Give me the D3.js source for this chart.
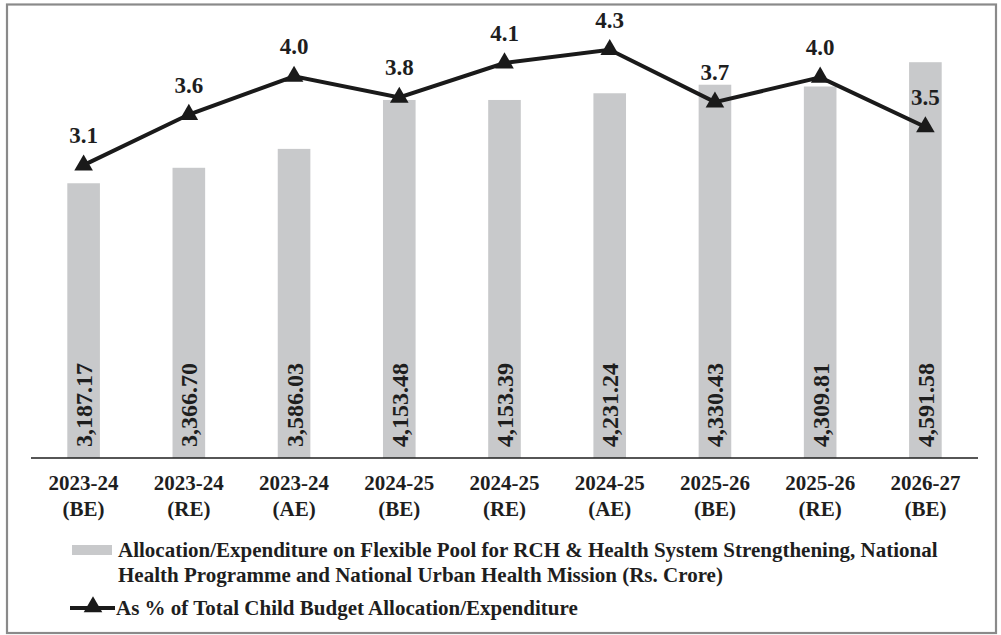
<!DOCTYPE html>
<html>
<head>
<meta charset="utf-8">
<script src="https://cdn.jsdelivr.net/npm/d3@7"></script>
<style>
  html, body { margin: 0; padding: 0; background: #fff; }
  svg { display: block; }
  text { font-family: "Liberation Serif", "Times New Roman", serif; font-weight: bold; fill: #1e1e1e; }
</style>
</head>
<body>
<svg id="chart" width="1001" height="635"></svg>
<script>
const years = ["2023-24", "2023-24", "2023-24", "2024-25", "2024-25", "2024-25", "2025-26", "2025-26", "2026-27"];
const stages = ["(BE)", "(RE)", "(AE)", "(BE)", "(RE)", "(AE)", "(BE)", "(RE)", "(BE)"];
const allocation = [3187.17, 3366.70, 3586.03, 4153.48, 4153.39, 4231.24, 4330.43, 4309.81, 4591.58];
const sharePct = [3.07, 3.60, 4.00, 3.78, 4.14, 4.28, 3.73, 3.99, 3.47];
const legendBar = ["Allocation/Expenditure on Flexible Pool for RCH & Health System Strengthening, National",
                   "Health Programme and National Urban Health Mission (Rs. Crore)"];
const legendLine = "As % of Total Child Budget Allocation/Expenditure";

const svg = d3.select("#chart");
const cats = years.map((y, i) => i);

// frame
svg.append("rect").attr("x", 7).attr("y", 4.5).attr("width", 989).attr("height", 628.5)
  .attr("fill", "none").attr("stroke", "#8a8a8a").attr("stroke-width", 2.2);

const x = d3.scaleBand().domain(cats).range([31, 978]).paddingInner(0.69).paddingOuter(0.345);
const y = d3.scaleLinear().domain([0, 5000]).range([458, 27]);
const y2 = d3.scaleLinear().domain([0, 4.5]).range([458, 28.7]);

// bars
svg.append("g").selectAll("rect").data(allocation).join("rect")
  .attr("x", (d, i) => x(i))
  .attr("y", d => y(d))
  .attr("width", x.bandwidth())
  .attr("height", d => y(0) - y(d))
  .attr("fill", "#c8c9cb");

// bar value labels (rotated)
svg.append("g").selectAll("text").data(allocation).join("text")
  .attr("transform", (d, i) => `translate(${x(i) + x.bandwidth() / 2 + 0.5},${y(0) - 11}) rotate(-90)`)
  .attr("text-anchor", "start")
  .attr("dominant-baseline", "central")
  .style("font-size", "24px")
  .text(d => d3.format(",.2f")(d));

// x axis
const xAxis = d3.axisBottom(x).tickSize(0).tickFormat("");
const ax = svg.append("g").attr("transform", `translate(0,${y(0)})`).call(xAxis);
ax.select(".domain").attr("stroke", "#1e1e1e").attr("stroke-width", 1.6).attr("d", "M31,0H978");
ax.selectAll(".tick").each(function(d) {
  const t = d3.select(this).append("text").attr("fill", "#1e1e1e").attr("text-anchor", "middle")
    .style("font-size", "21px").style("font-family", "Liberation Serif").style("font-weight", "bold");
  t.append("tspan").attr("x", 0).attr("y", 32).text(years[d]);
  t.append("tspan").attr("x", 0).attr("y", 58).text(stages[d]);
});

// line
const cx = i => x(i) + x.bandwidth() / 2;
const line = d3.line().x((d, i) => cx(i)).y(d => y2(d));
svg.append("path").datum(sharePct).attr("d", line)
  .attr("fill", "none").attr("stroke", "#1a1a1a").attr("stroke-width", 4).attr("stroke-linejoin", "miter");

const tri = d3.symbol().type(d3.symbolTriangle).size(150);
svg.append("g").selectAll("path").data(sharePct).join("path")
  .attr("d", tri)
  .attr("transform", (d, i) => `translate(${cx(i)},${y2(d)})`)
  .attr("fill", "#1a1a1a");

svg.append("g").selectAll("text").data(sharePct).join("text")
  .attr("x", (d, i) => cx(i))
  .attr("y", d => y2(d) - 22)
  .attr("text-anchor", "middle")
  .style("font-size", "23px")
  .text(d => d3.format(".1f")(d));

// legend
const lg = svg.append("g");
lg.append("rect").attr("x", 72).attr("y", 545).attr("width", 40).attr("height", 10).attr("fill", "#c8c9cb");
legendBar.forEach((s, i) => {
  lg.append("text").attr("x", 118).attr("y", 557 + i * 25).style("font-size", "21px").text(s);
});
lg.append("line").attr("x1", 70).attr("x2", 115).attr("y1", 608).attr("y2", 608)
  .attr("stroke", "#1a1a1a").attr("stroke-width", 4);
lg.append("path").attr("d", tri).attr("transform", "translate(93,607)").attr("fill", "#1a1a1a");
lg.append("text").attr("x", 116).attr("y", 615).style("font-size", "21px").text(legendLine);
</script>
</body>
</html>
